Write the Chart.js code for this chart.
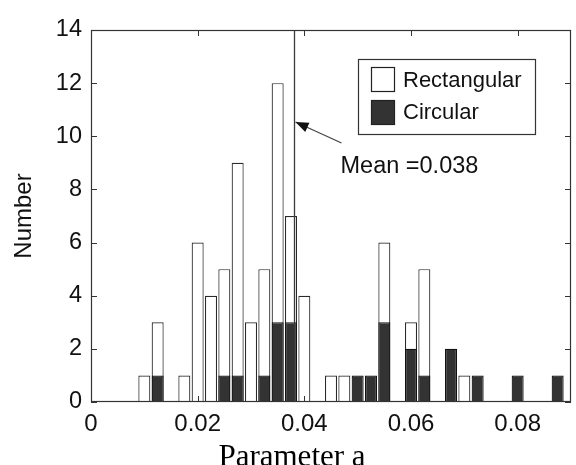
<!DOCTYPE html>
<html>
<head>
<meta charset="utf-8">
<script src="https://cdn.jsdelivr.net/npm/chart.js@4.4.1/dist/chart.umd.min.js"></script>
<style>
  html, body { margin: 0; padding: 0; background: #fff; }
  #wrap { width: 576px; height: 465px; position: relative; }
</style>
</head>
<body>
<div id="wrap"><canvas id="c"></canvas></div>
<script>
// ---- data ----
const binCenters  = [0.01, 0.0125, 0.0175, 0.02, 0.0225, 0.025, 0.0275, 0.03, 0.0325, 0.035, 0.0375, 0.04,
                     0.045, 0.0475, 0.05, 0.0525, 0.055, 0.06, 0.0625, 0.0675, 0.07, 0.0725, 0.08, 0.0875];
const rectangular = [1, 3, 1, 6, 4, 5, 9, 3, 5, 12, 7, 4,
                     1, 1, 0, 0, 6, 3, 5, 0, 1, 0, 0, 0];
const circular    = [0, 1, 0, 0, 0, 1, 1, 0, 1, 3, 3, 0,
                     0, 0, 1, 1, 3, 2, 1, 2, 0, 1, 1, 1];
const seriesNames = ['Rectangular', 'Circular'];
const xTickValues = [0, 0.02, 0.04, 0.06, 0.08];
const yTickValues = [0, 2, 4, 6, 8, 10, 12, 14];
const meanValue   = 0.038;
const meanLabel   = 'Mean =0.038';
const xTitle      = 'Parameter a';
const yTitle      = 'Number';

const SANS = '"Liberation Sans", Arial, sans-serif';
const SERIF = '"Liberation Serif", "Times New Roman", serif';

const toPoints = (vals) => binCenters.map((x, i) => ({ x: x, y: vals[i] === 0 ? null : vals[i] }));

const overlay = {
  id: 'overlay',
  afterDatasetsDraw(chart) {
    const { ctx, chartArea: a, scales: { x, y } } = chart;
    ctx.save();
    // mean line
    const mx = Math.round(x.getPixelForValue(meanValue)) + 0.5;
    ctx.strokeStyle = '#3a3a3a';
    ctx.lineWidth = 1.3;
    ctx.beginPath(); ctx.moveTo(mx, a.bottom); ctx.lineTo(mx, a.top); ctx.stroke();

    // frame
    ctx.strokeStyle = '#333';
    ctx.lineWidth = 1.2;
    ctx.strokeRect(a.left + 0.5, a.top + 0.5, a.right - a.left - 1, a.bottom - a.top - 1);

    // inward ticks
    const L = 6;
    ctx.lineWidth = 1;
    ctx.beginPath();
    xTickValues.forEach(v => {
      const px = Math.round(x.getPixelForValue(v)) + 0.5;
      ctx.moveTo(px, a.bottom); ctx.lineTo(px, a.bottom - L);
      ctx.moveTo(px, a.top); ctx.lineTo(px, a.top + L);
    });
    yTickValues.forEach(v => {
      const py = Math.round(y.getPixelForValue(v)) + 0.5;
      ctx.moveTo(a.left, py); ctx.lineTo(a.left + L, py);
      ctx.moveTo(a.right, py); ctx.lineTo(a.right - L, py);
    });
    ctx.stroke();

    // arrow + mean label
    const tipX = mx + 1, tipY = a.top + 92;
    const tailX = mx + 47, tailY = a.top + 113;
    ctx.strokeStyle = '#444';
    ctx.lineWidth = 1.3;
    ctx.beginPath(); ctx.moveTo(tailX, tailY); ctx.lineTo(tipX, tipY); ctx.stroke();
    const ang = Math.atan2(tipY - tailY, tipX - tailX);
    const hl = 13, hw = 5;
    ctx.fillStyle = '#111';
    ctx.beginPath();
    ctx.moveTo(tipX, tipY);
    ctx.lineTo(tipX - hl * Math.cos(ang) + hw * Math.sin(ang), tipY - hl * Math.sin(ang) - hw * Math.cos(ang));
    ctx.lineTo(tipX - hl * Math.cos(ang) - hw * Math.sin(ang), tipY - hl * Math.sin(ang) + hw * Math.cos(ang));
    ctx.closePath(); ctx.fill();

    ctx.fillStyle = '#111';
    ctx.font = '23.5px ' + SANS;
    ctx.textBaseline = 'middle';
    ctx.textAlign = 'left';
    ctx.fillText(meanLabel, mx + 46, a.top + 137);

    // legend box
    const bw = 177, bh = 75;
    const bx = a.right - 213, by = a.top + 29;
    ctx.fillStyle = '#fff';
    ctx.fillRect(bx, by, bw, bh);
    ctx.strokeStyle = '#333';
    ctx.lineWidth = 1.2;
    ctx.strokeRect(bx + 0.5, by + 0.5, bw, bh);
    const ds = chart.data.datasets;
    const rows = [{ d: ds[0], sy: by + 8, ty: by + 21.5 }, { d: ds[1], sy: by + 41, ty: by + 54 }];
    ctx.font = '22px ' + SANS;
    rows.forEach(r => {
      ctx.fillStyle = r.d.backgroundColor;
      ctx.fillRect(bx + 13, r.sy, 24, 25);
      ctx.strokeStyle = '#222';
      ctx.lineWidth = 1.2;
      ctx.strokeRect(bx + 13.5, r.sy + 0.5, 23, 24);
      ctx.fillStyle = '#111';
      ctx.fillText(r.d.label, bx + 45, r.ty);
    });

    // x-axis title (Times, offset left of plot centre as in the reference)
    ctx.fillStyle = '#000';
    ctx.font = '31px ' + SERIF;
    ctx.textAlign = 'center';
    ctx.textBaseline = 'alphabetic';
    ctx.fillText(xTitle, a.left + 201, chart.height + 0.5);
    ctx.restore();
  }
};

new Chart(document.getElementById('c'), {
  type: 'bar',
  data: {
    datasets: [
      { label: seriesNames[0], data: toPoints(rectangular), backgroundColor: '#ffffff',
        borderColor: '#2a2a2a', borderWidth: 1.2, order: 2 },
      { label: seriesNames[1], data: toPoints(circular), backgroundColor: '#333333',
        borderColor: '#111111', borderWidth: 1.2, order: 1 }
    ]
  },
  options: {
    responsive: true,
    maintainAspectRatio: false,
    animation: false,
    grouped: false,
    barPercentage: 0.9,
    categoryPercentage: 1.0,
    layout: { padding: { top: 30, right: 5, left: 0, bottom: 0 } },
    plugins: { legend: { display: false }, tooltip: { enabled: false } },
    scales: {
      x: {
        type: 'linear', offset: false, min: 0, max: 0.09,
        grid: { display: false, drawTicks: false },
        border: { display: false },
        afterBuildTicks: (s) => { s.ticks = xTickValues.map(v => ({ value: v })); },
        afterFit: (s) => { s.height = 63; },
        ticks: {
          color: '#111', padding: 8,
          font: { family: SANS, size: 24 },
          maxRotation: 0, autoSkip: false,
          callback: (v) => v === 0 ? '0' : Number(v).toFixed(2)
        },
        title: { display: false, text: xTitle }
      },
      y: {
        min: 0, max: 14,
        grid: { display: false, drawTicks: false },
        border: { display: false },
        afterBuildTicks: (s) => { s.ticks = yTickValues.map(v => ({ value: v })); },
        afterFit: (s) => { s.width = 91; },
        ticks: { color: '#111', padding: 9, font: { family: SANS, size: 23.5 } },
        title: { display: true, text: yTitle, color: '#111',
                 font: { family: SANS, size: 24 }, padding: { top: 10, bottom: 0 } }
      }
    }
  },
  plugins: [overlay]
});
</script>
</body>
</html>
